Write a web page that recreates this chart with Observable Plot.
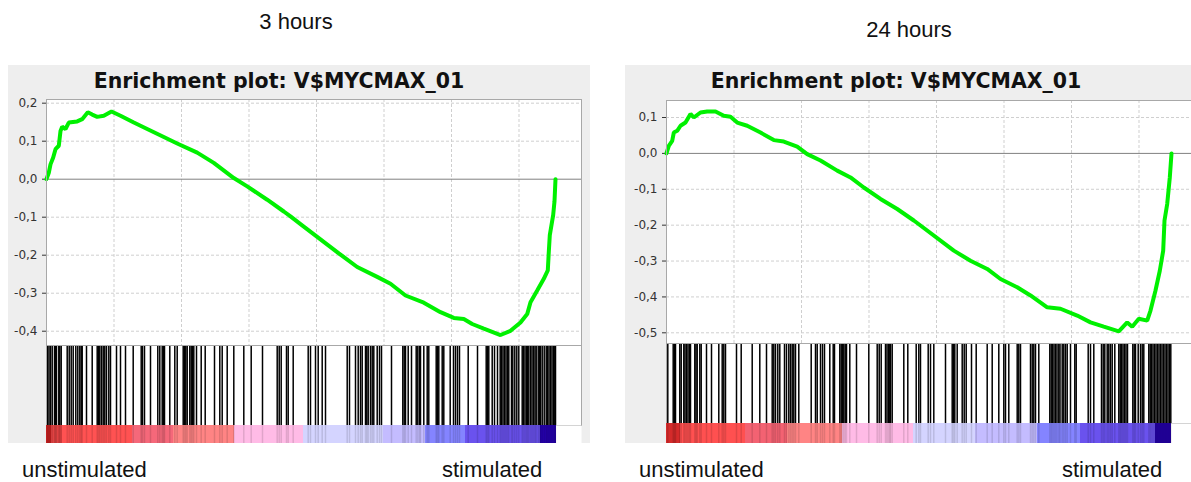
<!DOCTYPE html>
<html>
<head>
<meta charset="utf-8">
<script src="https://cdn.jsdelivr.net/npm/d3@7"></script>
<script src="https://cdn.jsdelivr.net/npm/@observablehq/plot@0.6"></script>
<style>
  html, body { margin: 0; padding: 0; width: 1191px; height: 482px; overflow: hidden; background: #fff; }
  .abs { position: absolute; }
  .box { position: absolute; background: #eeeeee; }
  .lbl { position: absolute; font-family: "Liberation Sans", Arial, Helvetica, sans-serif; font-size: 22px; line-height: 22px; color: #111; white-space: nowrap; }
  .ttl { position: absolute; font-family: "DejaVu Sans", Verdana, sans-serif; font-weight: bold; font-size: 20.5px; line-height: 20.5px; color: #111; white-space: nowrap; text-align: center; width: 460px; }
</style>
</head>
<body>
<div id="root"></div>
<script>
// ---------------- DATA ----------------
const panelTitles = ["3 hours", "24 hours"];
const plotTitle = "Enrichment plot: V$MYCMAX_01";
const phenotypeLabels = ["unstimulated", "stimulated"];

const xGridTicks = [2700, 5400, 8100, 10800, 13500, 16200, 18900];

const yTicks3h = [-0.4, -0.3, -0.2, -0.1, 0.0, 0.1, 0.2];
const yTicks24h = [-0.5, -0.4, -0.3, -0.2, -0.1, 0.0, 0.1];

// running enrichment score, 3 hours
const esRank3h = [0, 92, 160, 268, 360, 492, 560, 628, 760, 892, 1228, 1428, 1652, 1828, 2028, 2292, 2600, 2960, 3492, 4028, 4692, 5228, 6028, 6692, 7492, 8028, 8828, 9492, 9760, 10160, 11692, 12428, 13228, 13760, 14360, 15092, 15760, 16292, 16692, 17028, 17492, 18160, 18560, 18960, 19228, 19360, 19628, 19892, 20052, 20092, 20132, 20268, 20320, 20360];
const esValue3h = [0.0, 0.017, 0.039, 0.057, 0.079, 0.088, 0.127, 0.138, 0.132, 0.149, 0.152, 0.158, 0.176, 0.170, 0.164, 0.167, 0.178, 0.167, 0.149, 0.132, 0.111, 0.094, 0.070, 0.043, 0.003, -0.019, -0.054, -0.085, -0.098, -0.118, -0.195, -0.231, -0.257, -0.275, -0.306, -0.325, -0.350, -0.365, -0.368, -0.381, -0.393, -0.410, -0.399, -0.377, -0.355, -0.324, -0.293, -0.262, -0.240, -0.191, -0.147, -0.094, -0.058, 0.0];

// running enrichment score, 24 hours
const esRank24h = [0, 92, 228, 292, 428, 560, 760, 960, 1092, 1360, 1628, 1960, 2292, 2560, 2828, 3228, 3760, 4292, 4692, 5228, 5628, 6160, 6828, 7360, 7892, 8560, 9228, 9892, 10160, 11492, 12160, 12828, 13360, 14028, 14560, 15228, 15760, 16428, 16960, 17492, 18092, 18428, 18628, 18892, 19228, 19360, 19560, 19732, 19868, 19920, 20028, 20132, 20200];
const esValue24h = [0.0, 0.021, 0.035, 0.058, 0.063, 0.077, 0.086, 0.110, 0.100, 0.114, 0.117, 0.117, 0.105, 0.102, 0.086, 0.077, 0.058, 0.037, 0.033, 0.019, -0.002, -0.020, -0.048, -0.067, -0.095, -0.127, -0.155, -0.187, -0.201, -0.271, -0.299, -0.322, -0.350, -0.373, -0.396, -0.429, -0.433, -0.452, -0.471, -0.483, -0.496, -0.471, -0.483, -0.461, -0.466, -0.438, -0.382, -0.327, -0.271, -0.187, -0.141, -0.067, 0.0];

// gene set hit positions in the ranked list
const hits3h = [40, 100, 160, 228, 320, 360, 400, 492, 532, 588, 828, 908, 988, 1068, 1172, 1252, 1332, 1388, 1428, 1600, 1828, 2028, 2080, 2132, 2200, 2268, 2332, 2400, 2492, 2560, 2800, 2960, 3160, 3468, 3788, 3840, 3920, 4160, 4452, 4532, 4628, 4680, 4720, 4932, 5132, 5228, 5468, 5520, 5572, 5628, 5732, 5788, 5840, 5892, 6000, 6188, 6348, 6720, 6932, 7028, 7228, 7492, 7892, 8188, 8640, 9228, 9308, 9388, 9600, 9668, 9868, 10468, 10560, 10760, 10868, 11028, 11160, 12028, 12120, 12360, 12468, 12560, 12628, 12760, 12812, 12868, 12960, 13028, 13092, 13228, 13320, 13400, 13800, 14252, 14308, 14360, 14468, 14600, 14788, 14852, 14920, 14960, 15092, 15228, 15292, 15588, 15640, 15692, 15828, 15892, 16148, 16280, 16360, 16440, 16520, 16868, 17240, 17588, 17640, 17692, 17828, 17920, 18040, 18148, 18200, 18260, 18320, 18380, 18440, 18492, 18600, 18652, 18732, 18812, 18892, 19028, 19080, 19140, 19200, 19240, 19292, 19360, 19420, 19480, 19540, 19588, 19668, 19720, 19760, 19828, 19908, 19988, 20040, 20100, 20160, 20220, 20280, 20332, 20360];
const hits24h = [52, 268, 320, 360, 532, 588, 692, 740, 800, 860, 920, 960, 1132, 1180, 1228, 1332, 1388, 1600, 1800, 2092, 2228, 2292, 2360, 2800, 2988, 3428, 3732, 4000, 4228, 4292, 4360, 4452, 4532, 4720, 4800, 4892, 4960, 5028, 5092, 5160, 5292, 5788, 5960, 6028, 6160, 6240, 6320, 6532, 6668, 6720, 6932, 6988, 7040, 7092, 7148, 7200, 7332, 7600, 8092, 8428, 8508, 8588, 8760, 8820, 8880, 8932, 8960, 9028, 9492, 9652, 9988, 10092, 10160, 10468, 10560, 10692, 11160, 11428, 11480, 11532, 11628, 11828, 11908, 11988, 12200, 12388, 12828, 13028, 13292, 13492, 13560, 13692, 14028, 14092, 14160, 14560, 14628, 14692, 14760, 14892, 15332, 15388, 15440, 15500, 15560, 15620, 15692, 15740, 15828, 15892, 15960, 16028, 16160, 16332, 16388, 16868, 16960, 17092, 17400, 17468, 17532, 17628, 17692, 17760, 17828, 17932, 18092, 18148, 18200, 18260, 18320, 18380, 18440, 18652, 18708, 18760, 18868, 18960, 19028, 19092, 19292, 19348, 19400, 19460, 19520, 19580, 19640, 19700, 19760, 19820, 19880, 19940, 20000, 20060, 20120, 20172];

// ranked-list metric colour bands
const bandStart3h = [0, 200, 640, 3440, 5080, 7520, 10280, 13480, 15160, 16760, 19760];
const bandEnd3h   = [200, 640, 3440, 5080, 7520, 10280, 13480, 15160, 16760, 19760, 20400];
const bandColor3h = ["#c62020", "#e84444", "#ff5252", "#f5687a", "#ff8484", "#ffbbe6", "#d4d4ff", "#c4bcff", "#8484ff", "#6a52ee", "#2600b0"];
const bandStart24h = [0, 560, 3160, 4840, 7040, 9880, 12360, 14840, 16560, 19560];
const bandEnd24h   = [560, 3160, 4840, 7040, 9880, 12360, 14840, 16560, 19560, 20200];
const bandColor24h = ["#d42a2a", "#ff5050", "#f36272", "#ff8484", "#ffbbe6", "#d4d4ff", "#c4bcff", "#8484ff", "#6a52ee", "#2400a8"];

// ---------------- LAYOUT ----------------
const xDomain = [0, 21400];
const fmt = d => d3.format(".1f")(d).replace(".", ",").replace("\u2212", "-");
const svgStyle = {background: "transparent", overflow: "visible", maxWidth: "none", color: "#333"};

const panels = [
  {title: panelTitles[0], titleX: 296, titleBase: 30, boxLeft: 8, plotLeft: 46, esTop: 99, esBottom: 345, hitsBottom: 425, barBottom: 443,
   yDomain: [-0.4376, 0.2097], yTicks: yTicks3h, esRank: esRank3h, esValue: esValue3h, hits: hits3h,
   bands: bandStart3h.map((s, i) => ({start: s, end: bandEnd3h[i], color: bandColor3h[i]})),
   leftLabelX: 22, rightLabelX: 442},
  {title: panelTitles[1], titleX: 909, titleBase: 38, boxLeft: 625, plotLeft: 666, esTop: 100, esBottom: 343, hitsBottom: 423, barBottom: 443,
   yDomain: [-0.5298, 0.1474], yTicks: yTicks24h, esRank: esRank24h, esValue: esValue24h, hits: hits24h,
   bands: bandStart24h.map((s, i) => ({start: s, end: bandEnd24h[i], color: bandColor24h[i]})),
   leftLabelX: 639, rightLabelX: 1062}
];

const root = document.getElementById("root");
const boxWidth = 582, plotWidth = 535;

function place(el, left, top) {
  const d = document.createElement("div");
  d.className = "abs";
  d.style.left = left + "px";
  d.style.top = top + "px";
  d.appendChild(el);
  root.appendChild(d);
  return d;
}

for (const p of panels) {
  const mL = p.plotLeft - p.boxLeft;
  const mR = boxWidth - mL - plotWidth;

  const box = document.createElement("div");
  box.className = "box";
  Object.assign(box.style, {left: p.boxLeft + "px", top: "65px", width: boxWidth + "px", height: (p.barBottom - 65) + "px"});
  root.appendChild(box);

  const ttl = document.createElement("div");
  ttl.className = "ttl";
  ttl.textContent = plotTitle;
  Object.assign(ttl.style, {left: (p.boxLeft + 271 - 230) + "px", top: (88 - 17.3) + "px"});
  root.appendChild(ttl);

  const head = document.createElement("div");
  head.className = "lbl";
  head.textContent = p.title;
  Object.assign(head.style, {left: (p.titleX - 100) + "px", width: "200px", textAlign: "center", top: (p.titleBase - 18.6) + "px"});
  root.appendChild(head);

  const esData = p.esRank.map((r, i) => ({rank: r, es: p.esValue[i]}));
  const esH = p.esBottom - p.esTop;
  const es = Plot.plot({
    width: boxWidth, height: esH + 10,
    marginLeft: mL, marginRight: mR, marginTop: 10, marginBottom: 0,
    style: svgStyle,
    x: {domain: xDomain, axis: null},
    y: {domain: p.yDomain, ticks: p.yTicks, tickFormat: fmt, tickSize: 4, tickPadding: 5, label: null},
    marks: [
      Plot.frame({fill: "white", stroke: "none"}),
      Plot.ruleX(xGridTicks, {stroke: "#cfcfcf", strokeDasharray: "3,2", strokeOpacity: 1}),
      Plot.ruleY(p.yTicks.filter(t => t !== 0), {stroke: "#cfcfcf", strokeDasharray: "3,2", strokeOpacity: 1}),
      Plot.ruleY([0], {stroke: "#808080", strokeWidth: 1}),
      Plot.line(esData, {x: "rank", y: "es", stroke: "#00f000", strokeWidth: 4, strokeLinejoin: "miter"}),
      Plot.frame({stroke: "#a8a8a8"})
    ]
  });
  es.querySelectorAll("text").forEach(t => { t.style.fontFamily = "'DejaVu Sans', sans-serif"; t.style.fontSize = "12px"; });
  place(es, p.boxLeft, p.esTop - 10);

  const hitsH = p.hitsBottom - p.esBottom;
  const hp = Plot.plot({
    width: boxWidth, height: hitsH,
    marginLeft: mL, marginRight: mR, marginTop: 0, marginBottom: 0,
    style: svgStyle,
    x: {domain: xDomain, axis: null},
    marks: [
      Plot.frame({fill: "white", stroke: "none"}),
      Plot.ruleX(p.hits, {stroke: "black", strokeWidth: 1.5}),
      Plot.frame({stroke: "#a8a8a8"})
    ]
  });
  place(hp, p.boxLeft, p.esBottom);

  const barH = p.barBottom - p.hitsBottom;
  const bp = Plot.plot({
    width: boxWidth, height: barH,
    marginLeft: mL, marginRight: mR, marginTop: 0, marginBottom: 0,
    style: svgStyle,
    x: {domain: xDomain, axis: null},
    color: {type: "identity"},
    marks: [
      Plot.frame({fill: "white", stroke: "none"}),
      Plot.rect(p.bands, {x1: "start", x2: "end", fill: "color"}),
      Plot.ruleX(p.hits, {stroke: "black", strokeOpacity: 0.12, strokeWidth: 1.5})
    ]
  });
  place(bp, p.boxLeft, p.hitsBottom);

  const l1 = document.createElement("div");
  l1.className = "lbl";
  l1.textContent = phenotypeLabels[0];
  Object.assign(l1.style, {left: p.leftLabelX + "px", top: (478 - 18.6) + "px"});
  root.appendChild(l1);
  const l2 = document.createElement("div");
  l2.className = "lbl";
  l2.textContent = phenotypeLabels[1];
  Object.assign(l2.style, {left: p.rightLabelX + "px", top: (478 - 18.6) + "px"});
  root.appendChild(l2);
}
</script>
</body>
</html>
